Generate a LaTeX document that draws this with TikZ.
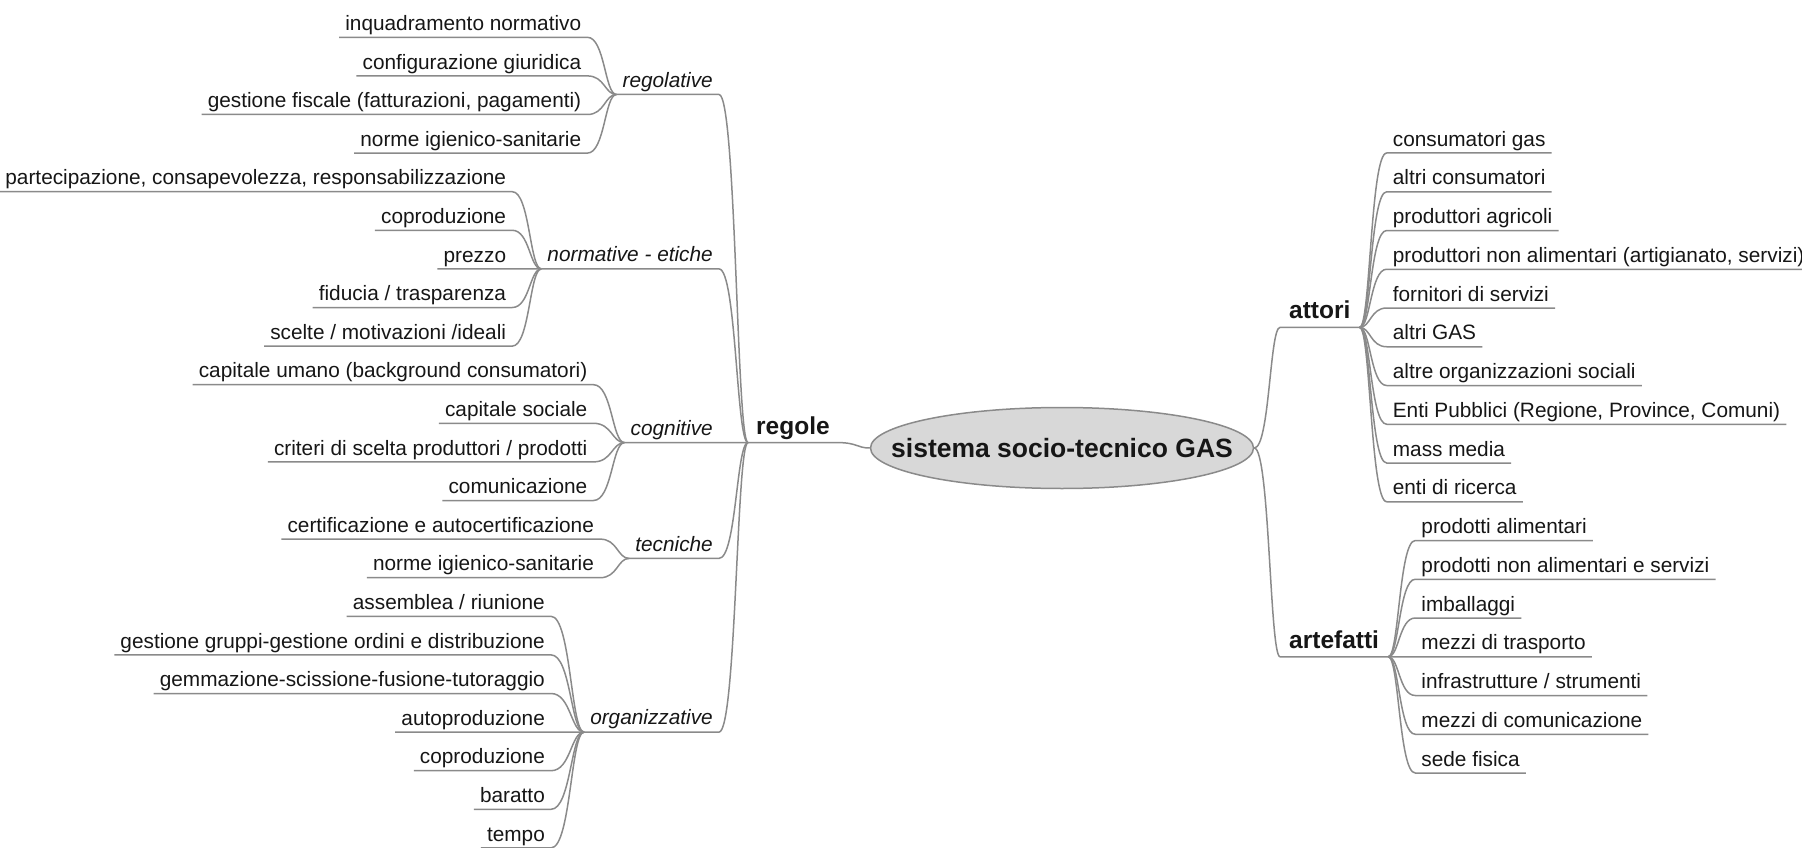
\documentclass[tikz,border=0pt]{standalone}
\usepackage{fontspec}
\setmainfont{Liberation Sans}
\usetikzlibrary{calc,shapes.geometric}

\definecolor{linegray}{RGB}{138,138,138}
\definecolor{bubble}{RGB}{216,216,216}
\definecolor{ink}{RGB}{22,22,22}

\tikzset{
  leaf/.style={font=\fontsize{20.8}{24}\selectfont, text=ink, inner xsep=6pt,
    inner ysep=0pt, text height=15pt, text depth=6.6pt},
  leftleaf/.style={leaf, anchor=south east},
  rightleaf/.style={leaf, anchor=south west},
  facet/.style={font=\itshape\fontsize{20.8}{24}\selectfont, text=ink, inner xsep=6pt,
    inner ysep=0pt, text height=15pt, text depth=7pt, anchor=south east},
  branch/.style={font=\bfseries\fontsize{24.5}{28}\selectfont, text=ink, inner xsep=8pt,
    inner ysep=0pt, text height=18pt, text depth=8.4pt, anchor=south west},
  core/.style={ellipse, draw=linegray, line width=1.5pt, fill=bubble,
    minimum width=383pt, minimum height=81pt, inner sep=0pt},
  coretext/.style={font=\bfseries\fontsize{26.5}{30}\selectfont, text=ink, inner sep=0pt},
  link/.style={draw=linegray, line width=1.5pt},
  curve/.style={to path={.. controls ($(\tikztostart)!0.6!(\tikztotarget|-\tikztostart)$)
    and ($(\tikztostart|-\tikztotarget)!0.6!(\tikztotarget)$) .. (\tikztotarget)}},
}

\begin{document}
\begin{tikzpicture}[x=1pt, y=-1pt]
\useasboundingbox (0,0) rectangle (1802,848);

% central topic and the two sides
\node[core] (hub) at (1062,448) {};
\node[coretext] (hubtext) at (hub.center) {sistema socio-tecnico GAS};
\node[branch] (rl) at (748,442.6) {regole};
\node[branch, inner xsep=9pt] (at) at (1280,327.4) {attori};
\node[branch, inner xsep=9pt] (af) at (1280,656.75) {artefatti};

\draw[link] (rl.south west) -- (rl.south east) to[curve] (hub.west);
\draw[link] (hub.east) to[curve] (at.south west) -- (at.south east);
\draw[link] (hub.east) to[curve] (af.south west) -- (af.south east);

% kinds of rules
\node[facet] (rg) at (719,94.5)  {regolative};
\node[facet] (ne) at (719,268.9) {normative - etiche};
\node[facet] (cg) at (719,442.6) {cognitive};
\node[facet] (tc) at (719,558.4) {tecniche};
\node[facet] (og) at (719,732.1) {organizzative};

\foreach \f in {rg,ne,cg,tc,og}
  \draw[link] (\f.south west) -- (\f.south east) to[curve] (rl.south west);

% leaves on the left: rows are 38.6 apart starting at 37.3
\foreach \t [count=\i from 0] in {inquadramento normativo, configurazione giuridica,
    {gestione fiscale (fatturazioni, pagamenti)}, norme igienico-sanitarie}
{
  \path (rg.south west) ++(-29,{37.3+38.6*\i-94.5}) node[leftleaf] (rg\i) {\t};
  \draw[link] (rg\i.south west) -- (rg\i.south east) to[curve] (rg.south west);
}
\foreach \t [count=\i from 0] in {{partecipazione, consapevolezza, responsabilizzazione},
    coproduzione\ , prezzo, fiducia / trasparenza, scelte / motivazioni /ideali\ }
{
  \path (ne.south west) ++(-29,{37.3+38.6*(\i+4)-268.9}) node[leftleaf] (ne\i) {\t};
  \draw[link] (ne\i.south west) -- (ne\i.south east) to[curve] (ne.south west);
}
\foreach \t [count=\i from 0] in {capitale umano (background consumatori), capitale sociale,
    criteri di scelta produttori / prodotti, comunicazione}
{
  \path (cg.south west) ++(-31,{37.3+38.6*(\i+9)-442.6}) node[leftleaf] (cg\i) {\t};
  \draw[link] (cg\i.south west) -- (cg\i.south east) to[curve] (cg.south west);
}
\foreach \t [count=\i from 0] in {certificazione e autocertificazione, norme igienico-sanitarie}
{
  \path (tc.south west) ++(-29,{37.3+38.6*(\i+13)-558.4}) node[leftleaf] (tc\i) {\t};
  \draw[link] (tc\i.south west) -- (tc\i.south east) to[curve] (tc.south west);
}
\foreach \t [count=\i from 0] in {assemblea / riunione,
    gestione gruppi-gestione ordini e distribuzione,
    gemmazione-scissione-fusione-tutoraggio, autoproduzione, coproduzione\ ,
    baratto, tempo}
{
  \path (og.south west) ++(-33,{37.3+38.6*(\i+15)-732.1}) node[leftleaf] (og\i) {\t};
  \draw[link] (og\i.south west) -- (og\i.south east) to[curve] (og.south west);
}

% leaves on the right: rows are 38.75 apart starting at 153
\foreach \t [count=\i from 0] in {consumatori gas, altri consumatori, produttori agricoli,
    {produttori non alimentari (artigianato, servizi)}, fornitori di servizi, altri GAS,
    altre organizzazioni sociali, {Enti Pubblici (Regione, Province, Comuni)},
    mass media, enti di ricerca}
{
  \path (at.south east) ++(27,{153+38.75*\i-327.4}) node[rightleaf] (at\i) {\t};
  \draw[link] (at\i.south east) -- (at\i.south west) to[curve] (at.south east);
}
\foreach \t [count=\i from 0] in {prodotti alimentari, prodotti non alimentari e servizi,
    imballaggi, mezzi di trasporto, infrastrutture / strumenti,
    mezzi di comunicazione, sede fisica}
{
  \path (af.south east) ++(27,{153+38.75*(\i+10)-656.75}) node[rightleaf] (af\i) {\t};
  \draw[link] (af\i.south east) -- (af\i.south west) to[curve] (af.south east);
}
\end{tikzpicture}
\end{document}
